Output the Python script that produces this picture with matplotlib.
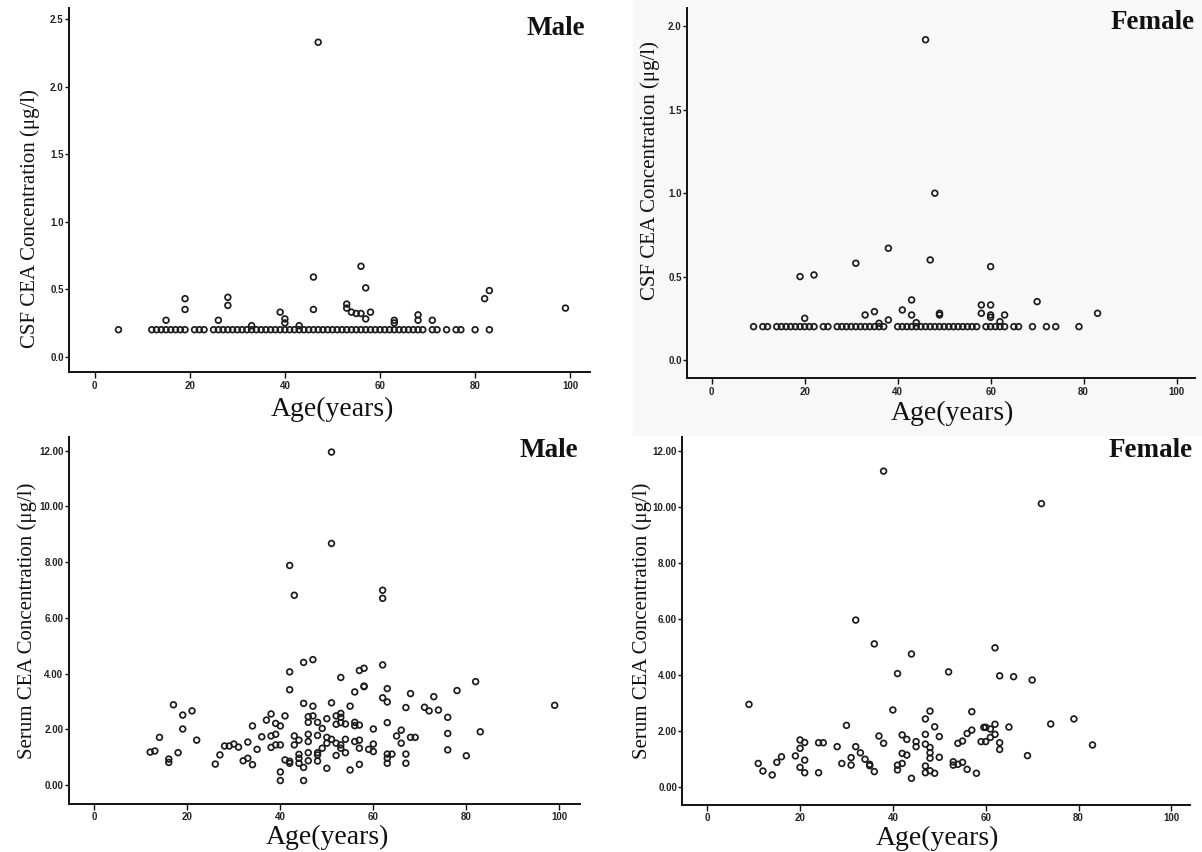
import matplotlib
matplotlib.use("Agg")
from matplotlib import pyplot as plt
from matplotlib.patches import Rectangle

# ---- data ----
csf_male_age = [5, 12, 13, 14, 15, 16, 17, 18, 19, 21, 22, 23,
                25, 26, 27, 28, 29, 30, 31, 32, 33, 34, 35, 36, 37, 38, 39, 40,
                41, 42, 43, 44, 45, 46, 47, 48, 49, 50, 51, 52, 53, 54, 55, 56,
                57, 58, 59, 60, 61, 62, 63, 64, 65, 66, 67, 68, 69,
                71, 72, 74, 76, 77, 80, 83,
                47, 56, 46, 57, 19, 28, 82, 83, 99, 19, 28, 46, 15, 26,
                39, 40, 40, 53, 53, 54, 55, 56, 57, 58, 63, 63, 68, 68, 71, 33, 43]
csf_male_val = [0.2, 0.2, 0.2, 0.2, 0.2, 0.2, 0.2, 0.2, 0.2, 0.2, 0.2, 0.2,
                0.2, 0.2, 0.2, 0.2, 0.2, 0.2, 0.2, 0.2, 0.2, 0.2, 0.2, 0.2, 0.2, 0.2, 0.2, 0.2,
                0.2, 0.2, 0.2, 0.2, 0.2, 0.2, 0.2, 0.2, 0.2, 0.2, 0.2, 0.2, 0.2, 0.2, 0.2, 0.2,
                0.2, 0.2, 0.2, 0.2, 0.2, 0.2, 0.2, 0.2, 0.2, 0.2, 0.2, 0.2, 0.2,
                0.2, 0.2, 0.2, 0.2, 0.2, 0.2, 0.2,
                2.33, 0.67, 0.59, 0.51, 0.43, 0.44, 0.43, 0.49, 0.36, 0.35, 0.38, 0.35, 0.27, 0.27,
                0.33, 0.28, 0.25, 0.39, 0.36, 0.33, 0.32, 0.32, 0.28, 0.33, 0.27, 0.25, 0.31, 0.27,
                0.27, 0.23, 0.23]

csf_female_age = [9, 11, 12, 14, 15, 16, 17, 18, 19, 20, 21, 22, 24, 25,
                  27, 28, 29, 30, 31, 32, 33, 34, 35, 36, 37,
                  40, 41, 42, 43, 44, 45, 46, 47, 48, 49, 50,
                  51, 52, 53, 54, 55, 56, 57, 59, 60, 61, 62, 63,
                  65, 66, 69, 72, 74, 79,
                  46, 48, 38, 47, 31, 60, 19, 22, 43, 70, 58, 60, 41, 35, 33, 83,
                  49, 49, 43, 58, 60, 60, 63, 20, 38, 36, 44, 62]
csf_female_val = [0.2, 0.2, 0.2, 0.2, 0.2, 0.2, 0.2, 0.2, 0.2, 0.2, 0.2, 0.2, 0.2, 0.2,
                  0.2, 0.2, 0.2, 0.2, 0.2, 0.2, 0.2, 0.2, 0.2, 0.2, 0.2,
                  0.2, 0.2, 0.2, 0.2, 0.2, 0.2, 0.2, 0.2, 0.2, 0.2, 0.2,
                  0.2, 0.2, 0.2, 0.2, 0.2, 0.2, 0.2, 0.2, 0.2, 0.2, 0.2, 0.2,
                  0.2, 0.2, 0.2, 0.2, 0.2, 0.2,
                  1.92, 1.00, 0.67, 0.60, 0.58, 0.56, 0.50, 0.51, 0.36, 0.35, 0.33, 0.33, 0.30, 0.29, 0.27, 0.28,
                  0.28, 0.27, 0.27, 0.28, 0.27, 0.256, 0.27, 0.25, 0.24, 0.22, 0.224, 0.23]

serum_male_age = [51, 51, 42, 43, 62, 62, 45, 47, 42, 62, 57, 58, 53, 42, 58, 58, 56, 63,
                  82, 78, 73, 68, 62, 63, 99, 17, 21, 19, 19, 22, 14, 12, 13, 16, 16, 18,
                  26, 27, 28, 29, 30, 31, 32, 33, 33, 34, 34, 35, 36, 37, 38, 38, 38,
                  39, 39, 39, 40, 40, 40, 40, 41, 41, 42, 42, 43, 43, 44, 44, 44, 44,
                  45, 45, 45, 46, 46, 46, 46, 46, 46, 47, 47, 48, 48, 48, 48, 48, 49, 49,
                  50, 50, 50, 50, 51, 51, 52, 52, 52, 52, 53, 53, 53, 53, 53, 54, 54, 54,
                  55, 55, 56, 56, 56, 57, 57, 57, 57, 59, 60, 60, 60, 63, 63, 63, 63, 64,
                  65, 66, 66, 67, 67, 67, 68, 69, 71, 72, 74, 76, 76, 76, 80, 83]
serum_male_val = [11.95, 8.67, 7.88, 6.81, 6.99, 6.70, 4.40, 4.50, 4.06, 4.31, 4.11, 4.19,
                  3.86, 3.42, 3.55, 3.53, 3.34, 3.46,
                  3.71, 3.39, 3.17, 3.28, 3.13, 2.98, 2.86, 2.88, 2.66, 2.51, 2.01, 1.61,
                  1.71, 1.18, 1.22, 0.93, 0.81, 1.16,
                  0.75, 1.08, 1.40, 1.40, 1.47, 1.36, 0.87, 1.54, 0.96, 0.73, 2.12, 1.28,
                  1.73, 2.33, 2.55, 1.76, 1.35,
                  2.21, 1.82, 1.44, 2.12, 1.44, 0.47, 0.16, 2.48, 0.90, 0.85, 0.78, 1.76,
                  1.44, 1.61, 1.10, 0.96, 0.78,
                  2.93, 0.63, 0.16, 1.82, 1.56, 2.45, 2.25, 1.16, 0.87, 2.83, 2.48, 2.25,
                  1.78, 1.16, 1.08, 0.86, 2.03, 1.32,
                  2.38, 1.71, 1.50, 0.60, 2.95, 1.64, 2.48, 2.18, 1.50, 1.06, 2.57, 2.43,
                  2.24, 1.44, 1.32, 2.19, 1.64, 1.16,
                  2.83, 0.54, 2.25, 2.13, 1.56, 2.15, 1.61, 1.32, 0.74, 1.28, 2.01, 1.47,
                  1.20, 2.24, 1.11, 0.96, 0.78, 1.11,
                  1.76, 1.97, 1.50, 2.78, 1.11, 0.78, 1.71, 1.71, 2.79, 2.66, 2.69, 2.43,
                  1.85, 1.26, 1.05, 1.91]

serum_female_age = [38, 72, 32, 36, 44, 62, 41, 52, 63, 66, 70, 9, 40, 48, 57, 47, 79,
                    74, 30, 49, 59.6, 60, 61, 62, 65, 57, 56, 47, 42, 37, 50, 62, 61, 43,
                    55, 54, 59, 60, 63, 63, 20, 21, 24, 25, 28, 32, 38, 45, 45, 47, 48,
                    48, 48, 20, 19, 16, 21, 15, 11, 12, 14, 20, 21, 24, 29, 31, 31, 33,
                    34, 35, 35, 36, 42, 42, 43, 41, 41, 44, 47, 47, 48, 49, 50, 53, 53,
                    54, 55, 56, 58, 69, 83]
serum_female_val = [11.27, 10.11, 5.95, 5.10, 4.74, 4.96, 4.04, 4.10, 3.96, 3.93, 3.81,
                    2.94, 2.74, 2.70, 2.68, 2.42, 2.42,
                    2.24, 2.19, 2.14, 2.12, 2.12, 2.06, 2.23, 2.13, 2.02, 1.90, 1.87, 1.85,
                    1.81, 1.79, 1.87, 1.76, 1.69,
                    1.63, 1.55, 1.61, 1.61, 1.57, 1.33, 1.67, 1.58, 1.57, 1.57, 1.43, 1.43,
                    1.55, 1.61, 1.43, 1.52, 1.40,
                    1.21, 1.02, 1.37, 1.10, 1.07, 0.95, 0.87, 0.83, 0.56, 0.42, 0.69, 0.50,
                    0.50, 0.83, 1.04, 0.77, 1.21,
                    0.98, 0.80, 0.75, 0.54, 1.19, 0.83, 1.13, 0.77, 0.60, 0.30, 0.74, 0.50,
                    0.57, 0.48, 1.05, 0.89, 0.77,
                    0.80, 0.87, 0.62, 0.48, 1.11, 1.49]

age_ticks = [0, 20, 40, 60, 80, 100]
csf_male_ticks = [0.0, 0.5, 1.0, 1.5, 2.0, 2.5]
csf_female_ticks = [0.0, 0.5, 1.0, 1.5, 2.0]
serum_ticks = [0, 2, 4, 6, 8, 10, 12]

W, H = 1202, 852
SERIF = ["Liberation Serif", "DejaVu Serif"]
SANS = ["Liberation Sans", "DejaVu Sans"]

fig = plt.figure(figsize=(W / 100, H / 100), dpi=100)
fig.patch.set_facecolor("white")

# the top-right panel sits on a slightly grey scan
fig.add_artist(Rectangle((633 / W, 1 - 436 / H), (W - 633) / W, 436 / H,
                         transform=fig.transFigure, facecolor="#f8f8f8",
                         edgecolor="none", zorder=0))


def fx(px):
    return px / W


def fy(py):
    return 1 - py / H


def panel(box, x0, xppu, y0, yppu, ages, vals, yticks, yfmt,
          ylabel, ylab_pos, xlab_pos, title, title_pos):
    left, right, top, bottom = box
    ax = fig.add_axes([fx(left), fy(bottom), (right - left) / W, (bottom - top) / H])
    ax.set_facecolor("none")
    ax.set_xlim((left - x0) / xppu, (right - x0) / xppu)
    ax.set_ylim((y0 - bottom) / yppu, (y0 - top) / yppu)

    ax.scatter(ages, vals, s=17, facecolors="none", edgecolors="#1c1c1c",
               linewidths=1.25, zorder=3, clip_on=False)

    for side in ("top", "right"):
        ax.spines[side].set_visible(False)
    for side in ("left", "bottom"):
        ax.spines[side].set_linewidth(1.4)
        ax.spines[side].set_color("#111111")

    ax.set_xticks(age_ticks)
    ax.set_xticklabels([str(t) for t in age_ticks])
    ax.set_yticks(yticks)
    ax.set_yticklabels([yfmt.format(t) for t in yticks])
    ax.tick_params(axis="x", length=4, width=1.0, pad=2.0, color="#111111")
    ax.tick_params(axis="y", length=3, width=1.0, pad=0.8, color="#111111")
    for lab in ax.get_xticklabels() + ax.get_yticklabels():
        lab.set_family(SANS)
        lab.set_fontweight("bold")
        lab.set_fontsize(7)
        lab.set_color("#222222")

    fig.text(fx(ylab_pos[0]), fy(ylab_pos[1]), ylabel, rotation=90,
             rotation_mode="anchor", ha="center", va="baseline",
             family=SERIF, fontsize=15, color="#111111")
    fig.text(fx(xlab_pos[0]), fy(xlab_pos[1]), "Age(years)", ha="center",
             va="baseline", family=SERIF, fontsize=20, color="#111111")
    fig.text(fx(title_pos[0]), fy(title_pos[1]), title, ha="right",
             va="baseline", family=SERIF, fontsize=19.5, fontweight="bold",
             color="#111111")
    return ax


panel((69, 590, 8, 372.5), 94.7, 4.755, 356.7, 134.96,
      csf_male_age, csf_male_val, csf_male_ticks, "{:.1f}",
      "CSF CEA Concentration (μg/l)", (35, 219), (332, 416), "Male", (585, 35))

panel((687, 1195, 8, 378.3), 711.7, 4.649, 360, 166.8,
      csf_female_age, csf_female_val, csf_female_ticks, "{:.1f}",
      "CSF CEA Concentration (μg/l)", (655, 171), (952, 420), "Female", (1195, 29))

panel((68.6, 580, 437, 804), 94.4, 4.649, 785, 27.86,
      serum_male_age, serum_male_val, serum_ticks, "{:.2f}",
      "Serum CEA Concentration (μg/l)", (32, 621), (327, 844), "Male", (578, 457))

panel((682.4, 1190, 437, 805), 707.2, 4.642, 786.7, 28.0,
      serum_female_age, serum_female_val, serum_ticks, "{:.2f}",
      "Serum CEA Concentration (μg/l)", (647, 621), (937, 845), "Female", (1193, 457))

fig.savefig("out.png", dpi=100)
